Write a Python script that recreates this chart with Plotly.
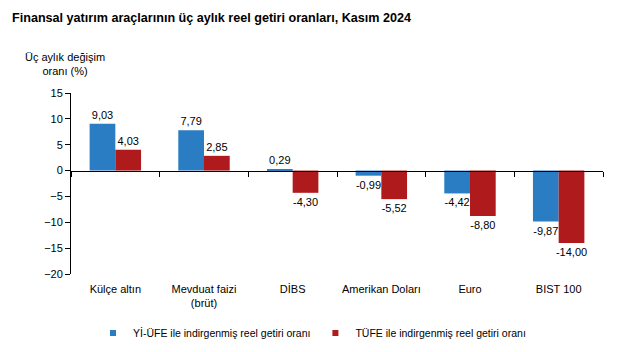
import plotly.graph_objects as go

categories = ["Külçe altın", "Mevduat faizi<br>(brüt)", "DİBS", "Amerikan Doları", "Euro", "BIST 100"]
yi_ufe = [9.03, 7.79, 0.29, -0.99, -4.42, -9.87]
tufe = [4.03, 2.85, -4.30, -5.52, -8.80, -14.00]
series_names = ["Yİ-ÜFE ile indirgenmiş reel getiri oranı", "TÜFE ile indirgenmiş reel getiri oranı"]
y_ticks = [-20, -15, -10, -5, 0, 5, 10, 15]

def fmt(v):
    return f"{v:.2f}".replace(".", ",")

FONT = "Liberation Sans, Arial, sans-serif"
BLUE = "#2A7DC3"
RED = "#AF1A1C"

fig = go.Figure()
for vals, name, col in [(yi_ufe, series_names[0], BLUE), (tufe, series_names[1], RED)]:
    fig.add_trace(go.Bar(
        x=list(range(len(categories))), y=vals, name=name, marker_color=col,
        marker_line_width=0, showlegend=False,
        text=[fmt(v) for v in vals], textposition="outside", constraintext="none",
        textfont=dict(family=FONT, size=11, color="#000"),
        cliponaxis=False,
    ))
# legend entries with small square symbols
for name, col in [(series_names[0], BLUE), (series_names[1], RED)]:
    fig.add_trace(go.Scatter(x=[None], y=[None], mode="markers", name=name,
                             marker=dict(symbol="square", size=6, color=col)))

ymin, ymax = -20, 15
fig.update_layout(
    width=632, height=352,
    margin=dict(l=71, r=29, t=93, b=78, autoexpand=False),
    paper_bgcolor="white", plot_bgcolor="white",
    barmode="group", bargap=0.42, bargroupgap=0,
    font=dict(family=FONT, size=11, color="#000"),
    title=dict(text="<b>Finansal yatırım araçlarının üç aylık reel getiri oranları, Kasım 2024</b>",
               x=12/632, xanchor="left", xref="container",
               y=1-18/352, yanchor="middle", yref="container",
               font=dict(family=FONT, size=12.6, color="#000")),
    showlegend=True,
    legend=dict(orientation="h", x=(312-71)/532, xanchor="center", y=(274-333)/181, yanchor="middle",
                font=dict(family=FONT, size=10.5), traceorder="normal",
                itemwidth=30, tracegroupgap=0),
    xaxis=dict(tickmode="array", tickvals=list(range(len(categories))), ticktext=categories,
               range=[-0.5, len(categories)-0.5], showline=False, ticks="", showgrid=False,
               zeroline=False, tickfont=dict(size=11), automargin=False, ticklabelstandoff=7),
    xaxis2=dict(overlaying="x", anchor="free", position=(0-ymin)/(ymax-ymin),
                range=[-0.5, len(categories)-0.5], showline=True, linecolor="#000", linewidth=1,
                ticks="outside", ticklen=5, tickcolor="#000",
                tickvals=[i-0.5 for i in range(len(categories)+1)],
                showticklabels=False, showgrid=False, zeroline=False, side="bottom", automargin=False),
    yaxis=dict(range=[ymin, ymax], tickvals=y_ticks, showgrid=False, zeroline=False,
               showline=True, linecolor="#000", linewidth=1, ticks="outside", ticklen=5,
               tickcolor="#000", tickfont=dict(size=11), automargin=False),
    annotations=[dict(text="Üç aylık değişim<br>oranı (%)", xref="paper", yref="paper",
                      x=(65-71)/532, y=1+(93-64)/181, xanchor="center", yanchor="middle",
                      showarrow=False, align="center", font=dict(size=11))],
)
# invisible trace to activate xaxis2 (zero-line axis with category boundary ticks)
fig.add_trace(go.Scatter(x=[0], y=[0], xaxis="x2", mode="markers", marker=dict(opacity=0),
                         showlegend=False, hoverinfo="skip"))
fig.write_html("out.html")
